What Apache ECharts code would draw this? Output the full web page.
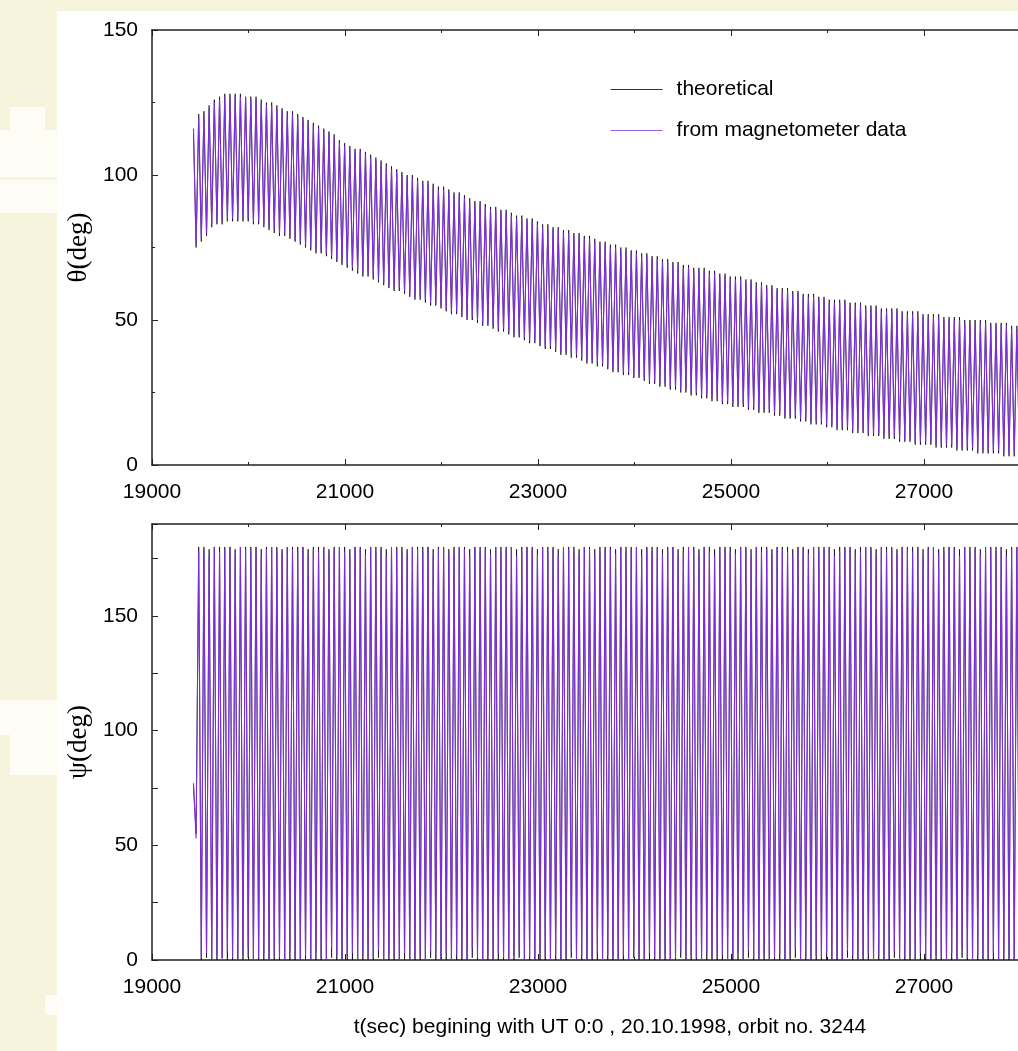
<!DOCTYPE html>
<html>
<head>
<meta charset="utf-8">
<title>theta / psi</title>
<script src="https://cdn.jsdelivr.net/npm/echarts@6/dist/echarts.min.js"></script>
<style>
html, body { margin: 0; padding: 0; background: #f6f4dc; }
.paper { position: absolute; left: 57px; top: 11px; width: 961px; height: 1040px; background: #fff; }
.patch { position: absolute; background: #fdfdf6; }
#chart { position: absolute; left: 0; top: 0; width: 1018px; height: 1051px; }
</style>
</head>
<body>
<div class="paper"></div>
<div class="patch" style="left:10px;top:107px;width:35px;height:23px"></div>
<div class="patch" style="left:0;top:130px;width:57px;height:47px"></div>
<div class="patch" style="left:0;top:180px;width:57px;height:33px"></div>
<div class="patch" style="left:0;top:700px;width:57px;height:35px"></div>
<div class="patch" style="left:10px;top:735px;width:47px;height:40px"></div>
<div class="patch" style="left:45px;top:995px;width:12px;height:20px"></div>
<div id="chart"></div>
<script>
// sample times, sec (every half spin period)
const sampleTime = [
  19430, 19457, 19484, 19511, 19538, 19565, 19592, 19619, 19646, 19673,
  19700, 19727, 19754, 19781, 19808, 19835, 19862, 19889, 19916, 19943,
  19970, 19997, 20024, 20051, 20078, 20105, 20132, 20159, 20186, 20213,
  20240, 20267, 20294, 20321, 20348, 20375, 20402, 20429, 20456, 20483,
  20510, 20537, 20564, 20591, 20618, 20645, 20672, 20699, 20726, 20753,
  20780, 20807, 20834, 20861, 20888, 20915, 20942, 20969, 20996, 21023,
  21050, 21077, 21104, 21131, 21158, 21185, 21212, 21239, 21266, 21293,
  21320, 21347, 21374, 21401, 21428, 21455, 21482, 21509, 21536, 21563,
  21590, 21617, 21644, 21671, 21698, 21725, 21752, 21779, 21806, 21833,
  21860, 21887, 21914, 21941, 21968, 21995, 22022, 22049, 22076, 22103,
  22130, 22157, 22184, 22211, 22238, 22265, 22292, 22319, 22346, 22373,
  22400, 22427, 22454, 22481, 22508, 22535, 22562, 22589, 22616, 22643,
  22670, 22697, 22724, 22751, 22778, 22805, 22832, 22859, 22886, 22913,
  22940, 22967, 22994, 23021, 23048, 23075, 23102, 23129, 23156, 23183,
  23210, 23237, 23264, 23291, 23318, 23345, 23372, 23399, 23426, 23453,
  23480, 23507, 23534, 23561, 23588, 23615, 23642, 23669, 23696, 23723,
  23750, 23777, 23804, 23831, 23858, 23885, 23912, 23939, 23966, 23993,
  24020, 24047, 24074, 24101, 24128, 24155, 24182, 24209, 24236, 24263,
  24290, 24317, 24344, 24371, 24398, 24425, 24452, 24479, 24506, 24533,
  24560, 24587, 24614, 24641, 24668, 24695, 24722, 24749, 24776, 24803,
  24830, 24857, 24884, 24911, 24938, 24965, 24992, 25019, 25046, 25073,
  25100, 25127, 25154, 25181, 25208, 25235, 25262, 25289, 25316, 25343,
  25370, 25397, 25424, 25451, 25478, 25505, 25532, 25559, 25586, 25613,
  25640, 25667, 25694, 25721, 25748, 25775, 25802, 25829, 25856, 25883,
  25910, 25937, 25964, 25991, 26018, 26045, 26072, 26099, 26126, 26153,
  26180, 26207, 26234, 26261, 26288, 26315, 26342, 26369, 26396, 26423,
  26450, 26477, 26504, 26531, 26558, 26585, 26612, 26639, 26666, 26693,
  26720, 26747, 26774, 26801, 26828, 26855, 26882, 26909, 26936, 26963,
  26990, 27017, 27044, 27071, 27098, 27125, 27152, 27179, 27206, 27233,
  27260, 27287, 27314, 27341, 27368, 27395, 27422, 27449, 27476, 27503,
  27530, 27557, 27584, 27611, 27638, 27665, 27692, 27719, 27746, 27773,
  27800, 27827, 27854, 27881, 27908, 27935, 27962, 27989, 28016, 28043
]

// theta (deg), from magnetometer data
const thetaMag = [
  116, 76, 120, 78, 121, 80, 123, 83, 125, 84, 126, 84, 127, 85, 127, 85, 127, 85, 127, 85,
  127, 85, 126, 84, 126, 84, 125, 83, 124, 82, 124, 81, 123, 80, 122, 80, 121, 79, 121, 78,
  120, 77, 119, 76, 118, 75, 117, 74, 116, 74, 115, 73, 114, 72, 113, 71, 111, 70, 110, 69,
  109, 68, 108, 67, 108, 66, 107, 66, 106, 65, 105, 64, 104, 63, 103, 62, 102, 61, 101, 61,
  100, 60, 99, 59, 99, 58, 98, 58, 97, 57, 97, 56, 96, 56, 95, 55, 95, 54, 94, 53,
  93, 53, 93, 52, 92, 51, 91, 51, 90, 50, 90, 49, 89, 49, 88, 48, 88, 47, 87, 47,
  87, 46, 86, 45, 85, 45, 85, 44, 84, 43, 84, 43, 83, 42, 82, 41, 82, 41, 81, 40,
  81, 39, 80, 39, 80, 38, 79, 38, 79, 37, 78, 36, 78, 36, 77, 35, 76, 35, 76, 34,
  75, 33, 75, 33, 74, 32, 74, 32, 73, 31, 73, 31, 72, 30, 72, 29, 71, 29, 71, 28,
  70, 28, 70, 27, 69, 27, 69, 26, 68, 26, 68, 25, 67, 25, 67, 24, 67, 24, 66, 23,
  66, 23, 65, 22, 65, 22, 64, 21, 64, 21, 64, 21, 63, 20, 63, 20, 62, 19, 62, 19,
  61, 19, 61, 18, 60, 18, 60, 17, 60, 17, 59, 17, 59, 16, 58, 16, 58, 15, 58, 15,
  57, 15, 57, 14, 56, 14, 56, 13, 56, 13, 56, 13, 55, 12, 55, 12, 55, 12, 54, 11,
  54, 11, 54, 11, 53, 10, 53, 10, 53, 10, 53, 9, 52, 9, 52, 9, 52, 8, 52, 8,
  51, 8, 51, 8, 51, 7, 51, 7, 50, 7, 50, 7, 50, 6, 50, 6, 49, 6, 49, 6,
  49, 5, 49, 5, 49, 5, 48, 5, 48, 5, 48, 4, 48, 4, 47, 4, 47, 4, 47, 4
]

// theta (deg), theoretical
const thetaTheory = [
  114, 75, 121, 77, 122, 79, 124, 82, 126, 83, 127, 83, 128, 84, 128, 84, 128, 84, 128, 84,
  127, 84, 127, 83, 127, 83, 126, 82, 125, 81, 125, 80, 124, 79, 123, 79, 122, 78, 122, 77,
  121, 76, 120, 75, 119, 74, 118, 73, 117, 73, 116, 72, 115, 71, 114, 70, 112, 69, 111, 68,
  110, 67, 109, 66, 109, 65, 108, 65, 107, 64, 106, 63, 105, 62, 104, 61, 103, 60, 102, 60,
  101, 59, 100, 58, 100, 57, 99, 57, 98, 56, 98, 55, 97, 55, 96, 54, 96, 53, 95, 52,
  94, 52, 94, 51, 93, 50, 92, 50, 91, 49, 91, 48, 90, 48, 89, 47, 89, 46, 88, 46,
  88, 45, 87, 44, 86, 44, 86, 43, 85, 42, 85, 42, 84, 41, 83, 40, 83, 40, 82, 39,
  82, 38, 81, 38, 81, 37, 80, 37, 80, 36, 79, 35, 79, 35, 78, 34, 77, 34, 77, 33,
  76, 32, 76, 32, 75, 31, 75, 31, 74, 30, 74, 30, 73, 29, 73, 28, 72, 28, 72, 27,
  71, 27, 71, 26, 70, 26, 70, 25, 69, 25, 69, 24, 68, 24, 68, 23, 68, 23, 67, 22,
  67, 22, 66, 21, 66, 21, 65, 20, 65, 20, 65, 20, 64, 19, 64, 19, 63, 18, 63, 18,
  62, 18, 62, 17, 61, 17, 61, 16, 61, 16, 60, 16, 60, 15, 59, 15, 59, 14, 59, 14,
  58, 14, 58, 13, 57, 13, 57, 12, 57, 12, 57, 12, 56, 11, 56, 11, 56, 11, 55, 10,
  55, 10, 55, 10, 54, 9, 54, 9, 54, 9, 54, 8, 53, 8, 53, 8, 53, 7, 53, 7,
  52, 7, 52, 7, 52, 6, 52, 6, 51, 6, 51, 6, 51, 5, 51, 5, 50, 5, 50, 5,
  50, 4, 50, 4, 50, 4, 49, 4, 49, 4, 49, 3, 49, 3, 48, 3, 48, 3, 48, 3
]

// psi (deg), from magnetometer data
const psiMag = [
  77, 53,
  178, 1, 179, 3, 176, 0, 180, 2, 178, 0, 179, 4, 180, 1, 177, 0, 180, 2, 179, 5,
  178, 0, 180, 1, 176, 3, 179, 0, 180, 2, 178, 1, 177, 0, 180, 4, 179, 1, 178, 0,
  180, 2, 176, 0, 179, 3, 178, 1, 180, 0, 177, 5, 179, 2, 180, 0, 178, 1, 176, 3,
  180, 0, 179, 2, 177, 0, 180, 1, 178, 4, 179, 0, 176, 2, 180, 1, 179, 0, 178, 3,
  177, 0, 180, 1, 179, 2, 178, 0, 180, 4, 176, 1, 179, 0, 180, 3, 177, 0, 178, 2,
  180, 1, 179, 0, 176, 5, 180, 1, 178, 0, 179, 2, 177, 0, 180, 3, 178, 1, 179, 0,
  180, 2, 176, 4, 178, 0, 180, 1, 179, 0, 177, 3, 180, 1, 178, 0, 179, 2, 176, 0,
  180, 1, 179, 4, 178, 0, 177, 2, 180, 0, 179, 1, 176, 3, 178, 0, 180, 2, 179, 1,
  177, 0, 180, 2, 178, 0, 179, 5, 180, 1, 176, 0, 179, 3, 178, 1, 180, 0, 177, 2,
  179, 0, 180, 1, 176, 4, 178, 0, 180, 2, 179, 1, 177, 0, 180, 3, 178, 0, 176, 1,
  180, 2, 179, 0, 178, 1, 177, 3, 180, 0, 179, 4, 176, 1, 180, 0, 178, 2, 179, 0,
  177, 1, 180, 3, 179, 0, 178, 2, 176, 5, 180, 0, 179, 1, 177, 0, 180, 2, 178, 1,
  179, 3, 180, 0, 176, 1, 178, 0, 179, 4, 180, 2, 177, 0, 178, 1, 180, 3, 179, 0,
  176, 2, 180, 0, 178, 1, 179, 4, 177, 0, 180, 1, 179, 2, 178, 0, 180, 3, 176, 1,
  179, 0, 180, 2, 177, 1, 178, 0, 180, 3, 179, 0, 176, 5, 180, 1, 178, 0, 179, 2,
  177, 0, 180, 1, 179, 3, 178, 0, 180, 2, 176, 1, 179, 0, 180, 4, 178, 0
]

// psi (deg), theoretical
const psiTheory = [
  76, 55,
  180, 0, 180, 1, 179, 0, 180, 0, 180, 1, 180, 0, 180, 0, 179, 0, 180, 0, 180, 1,
  180, 0, 180, 0, 179, 0, 180, 0, 180, 0, 180, 0, 179, 0, 180, 0, 180, 0, 180, 0,
  180, 0, 179, 0, 180, 0, 180, 0, 180, 0, 179, 1, 180, 0, 180, 0, 180, 0, 179, 0,
  180, 0, 180, 0, 179, 0, 180, 0, 180, 1, 180, 0, 179, 0, 180, 0, 180, 0, 180, 0,
  179, 0, 180, 0, 180, 0, 180, 0, 180, 1, 179, 0, 180, 0, 180, 0, 179, 0, 180, 0,
  180, 0, 180, 0, 179, 1, 180, 0, 180, 0, 180, 0, 179, 0, 180, 0, 180, 0, 180, 0,
  180, 0, 179, 1, 180, 0, 180, 0, 180, 0, 179, 0, 180, 0, 180, 0, 180, 0, 179, 0,
  180, 0, 180, 1, 180, 0, 179, 0, 180, 0, 180, 0, 179, 0, 180, 0, 180, 0, 180, 0,
  179, 0, 180, 0, 180, 0, 180, 1, 180, 0, 179, 0, 180, 0, 180, 0, 180, 0, 179, 0,
  180, 0, 180, 0, 179, 1, 180, 0, 180, 0, 180, 0, 179, 0, 180, 0, 180, 0, 179, 0,
  180, 0, 180, 0, 180, 0, 179, 0, 180, 0, 180, 1, 179, 0, 180, 0, 180, 0, 180, 0,
  179, 0, 180, 0, 180, 0, 180, 0, 179, 1, 180, 0, 180, 0, 179, 0, 180, 0, 180, 0,
  180, 0, 180, 0, 179, 0, 180, 0, 180, 1, 180, 0, 179, 0, 180, 0, 180, 0, 180, 0,
  179, 0, 180, 0, 180, 0, 180, 1, 179, 0, 180, 0, 180, 0, 180, 0, 180, 0, 179, 0,
  180, 0, 180, 0, 179, 0, 180, 0, 180, 0, 180, 0, 179, 1, 180, 0, 180, 0, 180, 0,
  179, 0, 180, 0, 180, 0, 180, 0, 180, 0, 179, 0, 180, 0, 180, 1, 180, 0
]

const seriesNames = ['theoretical', 'from magnetometer data']
const xLabel = 't(sec) begining with UT 0:0 , 20.10.1998, orbit no. 3244'

const sansFont = '"Liberation Sans", Arial, sans-serif'
const serifFont = '"Liberation Serif", "DejaVu Serif", serif'
const axisColor = '#222'
const purple = '#7d2cdc'

function pairs(values) {
  return sampleTime.map((t, i) => [t, values[i]])
}

function timeAxis(gridIndex, position, showLabel) {
  return {
    type: 'value',
    gridIndex: gridIndex,
    position: position,
    min: 19000,
    max: 29000,
    interval: 2000,
    axisLine: { show: true, onZero: false, lineStyle: { color: axisColor, width: 1.5 } },
    axisTick: { show: true, inside: true, length: 6, lineStyle: { color: axisColor, width: 1 } },
    minorTick: { show: true, splitNumber: 2, length: 3, lineStyle: { color: axisColor, width: 1 } },
    axisLabel: {
      show: showLabel,
      margin: 17,
      fontFamily: sansFont,
      fontSize: 21,
      color: '#000',
      formatter: function (v) {
        return String(v)
      }
    },
    splitLine: { show: false },
    minorSplitLine: { show: false }
  }
}

function angleAxis(gridIndex, max, interval, name) {
  return {
    type: 'value',
    gridIndex: gridIndex,
    min: 0,
    max: max,
    interval: interval,
    name: name,
    nameLocation: 'middle',
    nameRotate: 90,
    nameGap: 60,
    nameTextStyle: { fontFamily: serifFont, fontSize: 27, color: '#000' },
    axisLine: { show: true, onZero: false, lineStyle: { color: axisColor, width: 1.5 } },
    axisTick: { show: true, inside: true, length: 6, lineStyle: { color: axisColor, width: 1 } },
    minorTick: { show: interval === 50, splitNumber: 2, length: 3, lineStyle: { color: axisColor, width: 1 } },
    axisLabel: {
      margin: 14,
      fontFamily: sansFont,
      fontSize: 21,
      color: '#000',
      formatter: function (v) {
        return v % 50 === 0 ? String(v) : ''
      }
    },
    splitLine: { show: false },
    minorSplitLine: { show: false }
  }
}

function lineSeries(name, axisIdx, yIdx, values, color, width) {
  return {
    name: name,
    type: 'line',
    xAxisIndex: axisIdx,
    yAxisIndex: yIdx,
    data: pairs(values),
    symbol: 'none',
    showSymbol: false,
    lineStyle: { color: color, width: width },
    itemStyle: { color: color },
    emphasis: { disabled: true },
    animation: false
  }
}

const chart = echarts.init(document.getElementById('chart'))
chart.setOption({
  animation: false,
  grid: [
    { left: 152, top: 30, width: 965, height: 435, containLabel: false, outerBoundsMode: 'none' },
    { left: 152, top: 524, width: 965, height: 436, containLabel: false, outerBoundsMode: 'none' }
  ],
  legend: {
    data: [
      { name: seriesNames[0], lineStyle: { color: '#333', width: 1 }, itemStyle: { opacity: 0 } },
      { name: seriesNames[1], lineStyle: { color: '#9a62e6', width: 1.2 }, itemStyle: { opacity: 0 } }
    ],
    orient: 'vertical',
    left: 610,
    top: 79,
    padding: 0,
    itemWidth: 52,
    itemHeight: 14,
    itemGap: 20,
    selectedMode: false,
    textStyle: { fontFamily: sansFont, fontSize: 21, color: '#000', padding: [0, 0, 0, 9] }
  },
  xAxis: [
    timeAxis(0, 'bottom', true),
    timeAxis(0, 'top', false),
    timeAxis(1, 'bottom', true),
    timeAxis(1, 'top', false)
  ],
  yAxis: [
    angleAxis(0, 150, 50, 'θ(deg)'),
    angleAxis(1, 190, 25, 'ψ(deg)')
  ],
  graphic: [
    {
      type: 'text',
      x: 610,
      y: 1027,
      style: {
        text: xLabel,
        textAlign: 'center',
        textVerticalAlign: 'middle',
        fontFamily: sansFont,
        fontSize: 21,
        fill: '#000'
      }
    }
  ],
  series: [
    lineSeries(seriesNames[0], 0, 0, thetaTheory, '#000', 0.7),
    lineSeries(seriesNames[1], 0, 0, thetaMag, purple, 1.1),
    lineSeries(seriesNames[0], 2, 1, psiTheory, '#000', 0.7),
    lineSeries(seriesNames[1], 2, 1, psiMag, purple, 1.1)
  ]
})
</script>
</body>
</html>
